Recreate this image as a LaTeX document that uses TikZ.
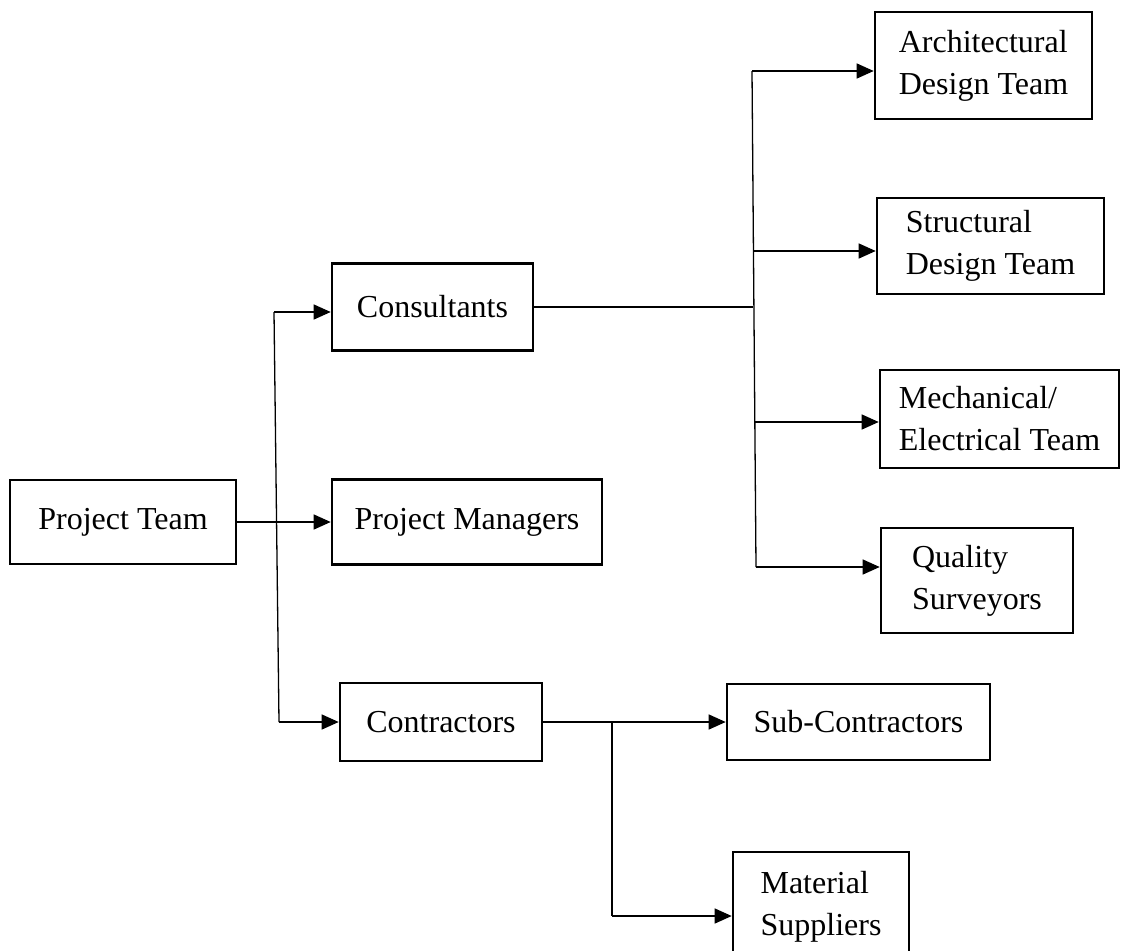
\documentclass[tikz,border=0pt]{standalone}
\usepackage{fontspec}
\setmainfont{Liberation Serif}
\usepackage{tikz}
\usetikzlibrary{arrows.meta}
\tikzset{
teambox/.style={rectangle,draw=black,line width=2.6pt,inner sep=0pt,
align=left,font=\fontsize{32}{42}\selectfont},
link/.style={line width=1.3pt,draw=black}
}

\begin{document}
\begin{tikzpicture}[x=1pt,y=-1pt,>={Triangle[length=17pt,width=15pt]}]
		\useasboundingbox (0,0) rectangle (1123,950);

		\node[teambox,minimum width=226pt,minimum height=84pt] (pt) at (123,522) {Project Team};
		\node[teambox,minimum width=201pt,minimum height=87pt] (cons) at (432.5,307) {Consultants};
		\node[teambox,minimum width=270pt,minimum height=85pt] (pm) at (467,522) {Project Managers};
		\node[teambox,minimum width=202pt,minimum height=78pt] (ctr) at (441,722) {Contractors};

		\node[teambox,minimum width=217pt,minimum height=107pt] (arch) at (983.5,65.5) {Architectural\\Design Team};
		\node[teambox,minimum width=227pt,minimum height=96pt] (struct) at (990.5,246) {Structural\\Design Team};
		\node[teambox,minimum width=239pt,minimum height=98pt] (mech) at (999.5,419) {Mechanical/\\Electrical Team};
		\node[teambox,minimum width=192pt,minimum height=105pt] (qs) at (977,580.5) {Quality\\Surveyors};

		\node[teambox,minimum width=263pt,minimum height=76pt] (sub) at (858.5,722) {Sub-Contractors};
		\node[teambox,minimum width=176pt,minimum height=110pt] (mat) at (821,907) {Material\\Suppliers};

		% left trunk
		\coordinate (lc) at (274,312);
		\coordinate (lk) at (279,722);
		\draw[link,->] (pt.east) -- (pm.west);
		\draw[link] (lc) -- (lk);
		\draw[link,->] (lc) -- (lc -| cons.west);
		\draw[link,->] (lk) -- (lk -| ctr.west);

		% consultants trunk
		\coordinate (ra) at (752,71);
		\coordinate (rc) at (753,307);
		\coordinate (rs) at (753,251);
		\coordinate (rm) at (755,422);
		\coordinate (rq) at (756,567);
		\draw[link] (cons.east) -- (rc);
		\draw[link] (ra) -- (rq);
		\draw[link,->] (ra) -- (ra -| arch.west);
		\draw[link,->] (rs) -- (rs -| struct.west);
		\draw[link,->] (rm) -- (rm -| mech.west);
		\draw[link,->] (rq) -- (rq -| qs.west);

		% contractors branch
		\coordinate (kb) at (612,722);
		\coordinate (km) at (612,916);
		\draw[link,->] (ctr.east) -- (sub.west);
		\draw[link] (kb) -- (km);
		\draw[link,->] (km) -- (km -| mat.west);

	\end{tikzpicture}
\end{document}
